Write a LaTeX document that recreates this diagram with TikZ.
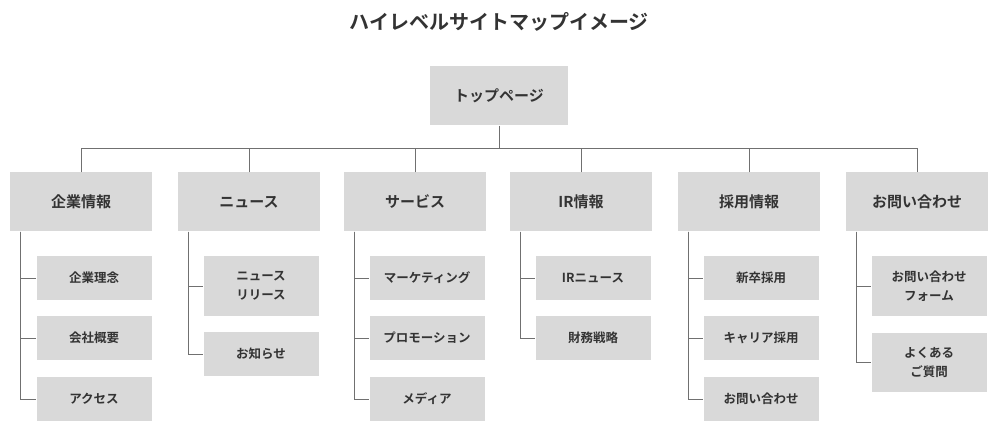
\documentclass[tikz,border=0pt]{standalone}
\usepackage{fontspec}
\setmainfont{Noto Sans CJK JP}[BoldFont={Noto Sans CJK JP Bold}]
\definecolor{boxgray}{HTML}{D9D9D9}
\definecolor{linegray}{HTML}{707070}
\definecolor{textgray}{HTML}{333333}
\tikzset{
  page/.style={fill=boxgray, text=textgray, font=\bfseries\fontsize{15}{18}\selectfont, align=center, inner sep=0pt},
  top/.style={page, minimum width=138, minimum height=59},
  section/.style={page, minimum width=142, minimum height=59},
  sub/.style={page, minimum width=115, minimum height=44, font=\bfseries\fontsize{12.5}{19}\selectfont},
  subtall/.style={sub, minimum height=59},
  link/.style={draw=linegray, line width=0.9pt}
}
\begin{document}
\begin{tikzpicture}[x=1pt, y=-1pt]
\useasboundingbox (0,0) rectangle (998,430);
\node (title) [text=textgray, font=\bfseries\fontsize{20}{24}\selectfont] at (499,22) {ハイレベルサイトマップイメージ};

\node (home) [top] at (499,96) {トップページ};

\node (c1) [section] at (81,202) {企業情報};
\node (c2) [section] at (249,202) {ニュース};
\node (c3) [section] at (415,202) {サービス};
\node (c4) [section] at (581,202) {IR情報};
\node (c5) [section] at (749,202) {採用情報};
\node (c6) [section] at (917,202) {お問い合わせ};

\coordinate (bus) at (499,148);
\foreach \i in {1,...,6}
  \draw [link] (c\i.north) -- (c\i.north |- bus);
\draw [link] (c1.north |- bus) -- (c6.north |- bus);
\draw [link] (home.south) -- (bus);

% sub pages
\node (c1a) [sub] at (94,278) {企業理念};
\node (c1b) [sub] at (94,338) {会社概要};
\node (c1c) [sub] at (94,399) {アクセス};

\node (c2a) [subtall] at (261,286) {ニュース\\リリース};
\node (c2b) [sub] at (261,354) {お知らせ};

\node (c3a) [sub] at (427,278) {マーケティング};
\node (c3b) [sub] at (427,338) {プロモーション};
\node (c3c) [sub] at (427,399) {メディア};

\node (c4a) [sub] at (593,278) {IRニュース};
\node (c4b) [sub] at (593,338) {財務戦略};

\node (c5a) [sub] at (761,278) {新卒採用};
\node (c5b) [sub] at (761,338) {キャリア採用};
\node (c5c) [sub] at (761,399) {お問い合わせ};

\node (c6a) [subtall] at (929,286) {お問い合わせ\\フォーム};
\node (c6b) [subtall] at (929,362) {よくある\\ご質問};

\foreach \i/\kids in {1/{a,b,c}, 2/{a,b}, 3/{a,b,c}, 4/{a,b}, 5/{a,b,c}, 6/{a,b}} {
  \coordinate (s\i) at ([xshift=11pt]c\i.south west);
  \foreach \k in \kids
    \draw [link] (s\i) |- (c\i\k.west);
}
\end{tikzpicture}
\end{document}
